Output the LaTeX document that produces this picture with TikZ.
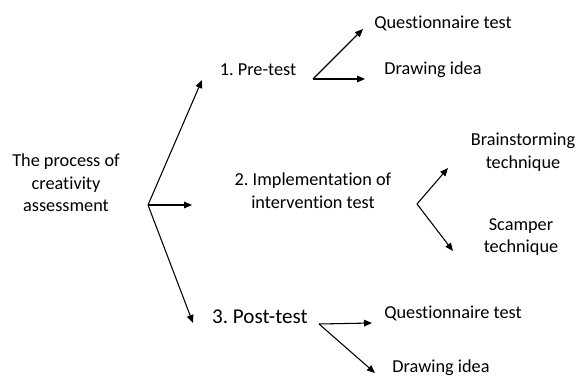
\documentclass[tikz,border=0pt]{standalone}
\usepackage{fontspec}
\setmainfont{Carlito}[Ligatures=NoCommon]
\frenchspacing
\usetikzlibrary{arrows.meta}

\begin{document}
\begin{tikzpicture}[x=0.75pt, y=-0.75pt,
        txt/.style={align=center, inner sep=0pt, font=\fontsize{13.7}{17}\selectfont},
        big/.style={txt, font=\fontsize{15.8}{19}\selectfont},
        arrow/.style={-{Triangle[length=6pt, width=5pt]}, line width=0.8pt}]

    \useasboundingbox (0,0) rectangle (578,378);

    % texts
    \node[txt] (process) at (66,183)  {The process of\\creativity\\assessment};
    \node[txt] (pre)     at (258,70)  {1. Pre-test};
    \node[txt] (interv)  at (313,191) {2. Implementation of\\intervention test};
    \node[big] (post)    at (260,317) {3. Post-test};

    \node[txt] (preq)    at (443,23)  {Questionnaire test};
    \node[txt] (pred)    at (433,70)  {Drawing idea};
    \node[txt] (brain)   at (523,152) {Brainstorming\\technique};
    \node[txt] (scamper) at (521,237) {Scamper\\technique};
    \node[txt] (postq)   at (453,313) {Questionnaire test};
    \node[txt] (postd)   at (441,368) {Drawing idea};

    % fork points and arrow ends
    \coordinate (hub)      at (148,205);
    \coordinate (to-pre)   at (202,80);
    \coordinate (to-int)   at (192,205);
    \coordinate (to-post)  at (193,323);

    \coordinate (pre-fork) at (313,79);
    \coordinate (to-preq)  at (363,29);
    \coordinate (to-pred)  at (365,79);

    \coordinate (int-fork) at (417,204);
    \coordinate (to-brain) at (448,168);
    \coordinate (to-scamp) at (453,251);

    \coordinate (post-fork) at (319,324);
    \coordinate (to-postq)  at (372,323);
    \coordinate (to-postd)  at (375,373);

    \draw[arrow] (hub) -- (to-pre);
    \draw[arrow] (hub) -- (to-int);
    \draw[arrow] (hub) -- (to-post);

    \draw[arrow] (pre-fork) -- (to-preq);
    \draw[arrow] (pre-fork) -- (to-pred);

    \draw[arrow] (int-fork) -- (to-brain);
    \draw[arrow] (int-fork) -- (to-scamp);

    \draw[arrow] (post-fork) -- (to-postq);
    \draw[arrow] (post-fork) -- (to-postd);
\end{tikzpicture}
\end{document}
